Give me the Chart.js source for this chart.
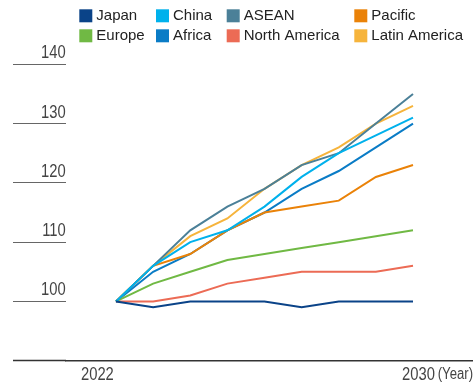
<!DOCTYPE html>
<html>
<head>
<meta charset="utf-8">
<script src="https://cdn.jsdelivr.net/npm/chart.js@4.4.1/dist/chart.umd.min.js"></script>
<style>
  html, body { margin: 0; padding: 0; background: #fff; }
  #wrap { width: 473px; height: 383px; position: relative; }
</style>
</head>
<body>
<div id="wrap"><canvas id="chart" width="473" height="383"></canvas></div>
<script>
// Index values by region (2022 = 100)
const years = [2022, 2023, 2024, 2025, 2026, 2027, 2028, 2029, 2030];
const japan        = [100,  99, 100, 100, 100,  99, 100, 100, 100];
const china        = [100, 106, 110, 112, 116, 121, 125, 128, 131];
const asean        = [100, 106, 112, 116, 119, 123, 125, 130, 135];
const pacific      = [100, 106, 108, 112, 115, 116, 117, 121, 123];
const europe       = [100, 103, 105, 107, 108, 109, 110, 111, 112];
const africa       = [100, 105, 108, 112, 115, 119, 122, 126, 130];
const northAmerica = [100, 100, 101, 103, 104, 105, 105, 105, 106];
const latinAmerica = [100, 106, 111, 114, 119, 123, 126, 130, 133];

const regionNames  = ['Japan', 'China', 'ASEAN', 'Pacific', 'Europe', 'Africa', 'North America', 'Latin America'];
const regionSeries = [japan, china, asean, pacific, europe, africa, northAmerica, latinAmerica];
const regionColors = ['#0a4388', '#00b1ec', '#4b8098', '#ea8208', '#70b944', '#0a7cc6', '#ec6b55', '#f6b43c'];

const yAxisMin = 90;
const yAxisMax = 140;
const yAxisStep = 10;
const yearTickLabels = [2022, 2030];

const axisFont = "'Liberation Sans', Arial, sans-serif";
const legendFont = "'Liberation Sans', Arial, sans-serif";

// Axis text is set in a narrow cut: squeeze glyphs horizontally around each label's anchor.
const NARROW = 0.82;
class NarrowLinearScale extends Chart.LinearScale {
  drawLabels(chartArea) {
    if (!this.options.ticks.display) return;
    const ctx = this.ctx;
    const render = Chart.helpers && Chart.helpers.renderText;
    if (!render) return super.drawLabels(chartArea);
    for (const item of this.getLabelItems(chartArea)) {
      const opts = item.options;
      const [tx, ty] = opts.translation || [0, 0];
      ctx.save();
      ctx.translate(tx, ty);
      ctx.scale(NARROW, 1);
      render(ctx, item.label, 0, item.textOffset, item.font, Object.assign({}, opts, { translation: undefined }));
      ctx.restore();
    }
  }
  drawTitle() {
    const ctx = this.ctx;
    ctx.save();
    ctx.translate(this.right, 0);
    ctx.scale(NARROW, 1);
    ctx.translate(-this.right, 0);
    super.drawTitle();
    ctx.restore();
  }
}
NarrowLinearScale.id = 'narrowLinear';
NarrowLinearScale.defaults = Chart.LinearScale.defaults;
Chart.register(NarrowLinearScale);

// Two-row legend laid out on a fixed column grid
const gridLegend = {
  id: 'gridLegend',
  afterDraw(chart, args, opts) {
    const ctx = chart.ctx;
    ctx.save();
    ctx.font = opts.font;
    ctx.textBaseline = 'middle';
    ctx.textAlign = 'left';
    const cols = opts.columns.length;
    chart.data.datasets.forEach((ds, i) => {
      const x = opts.columns[i % cols];
      const y = opts.top + Math.floor(i / cols) * opts.rowHeight;
      ctx.fillStyle = ds.borderColor;
      ctx.fillRect(x, y, opts.boxSize, opts.boxSize);
      ctx.fillStyle = opts.color;
      ctx.fillText(ds.label, x + opts.boxSize + opts.gap, y + opts.boxSize / 2 + 0.5);
    });
    ctx.restore();
  }
};

const datasets = regionNames.map((name, i) => ({
  label: name,
  data: regionSeries[i].map((v, j) => ({ x: years[j], y: v })),
  borderColor: regionColors[i],
  backgroundColor: regionColors[i],
  borderWidth: 2,
  pointRadius: 0,
  tension: 0,
  fill: false
}));

new Chart(document.getElementById('chart'), {
  type: 'line',
  data: { datasets },
  plugins: [gridLegend],
  options: {
    responsive: false,
    animation: false,
    devicePixelRatio: 1,
    layout: { padding: { top: 64.3, left: 13, right: 0, bottom: 0 } },
    plugins: {
      legend: { display: false },
      tooltip: { enabled: false },
      gridLegend: {
        columns: [79.3, 156, 226.7, 354.3],
        top: 9.3,
        rowHeight: 20,
        boxSize: 13,
        gap: 4,
        font: "15px " + legendFont,
        color: '#222'
      }
    },
    scales: {
      x: {
        type: 'linear',
        display: false,
        min: 2020.645,
        max: 2031.616
      },
      xYear: {
        type: 'narrowLinear',
        position: 'bottom',
        min: 2021.21,
        max: 2031.36,
        afterBuildTicks: (scale) => { scale.ticks = yearTickLabels.map(v => ({ value: v })); },
        afterFit: (scale) => { scale.height = 22.3; },
        grid: { display: false, drawTicks: false },
        border: { display: true, color: '#333', width: 1.5 },
        ticks: {
          autoSkip: false,
          maxRotation: 0,
          padding: 5.3,
          color: '#444',
          font: { family: axisFont, size: 18, lineHeight: 1 },
          callback: (v) => String(v)
        },
        title: {
          display: true,
          text: '(Year)',
          align: 'end',
          padding: 0,
          color: '#444',
          font: { family: axisFont, size: 16, lineHeight: 1 }
        }
      },
      y: {
        type: 'narrowLinear',
        min: yAxisMin,
        max: yAxisMax,
        afterFit: (scale) => { scale.width = 52.7; },
        grid: {
          drawOnChartArea: false,
          drawTicks: true,
          tickLength: 52.7,
          tickColor: (c) => c.tick && c.tick.value === yAxisMin ? '#333' : '#666',
          tickWidth: (c) => c.tick && c.tick.value === yAxisMin ? 1.5 : 1.2
        },
        border: { display: false },
        ticks: {
          stepSize: yAxisStep,
          padding: -52.7,
          labelOffset: -11,
          color: '#444',
          font: { family: axisFont, size: 18 },
          callback: (v) => (v === yAxisMin ? '' : String(v))
        }
      }
    }
  }
});
</script>
</body>
</html>
